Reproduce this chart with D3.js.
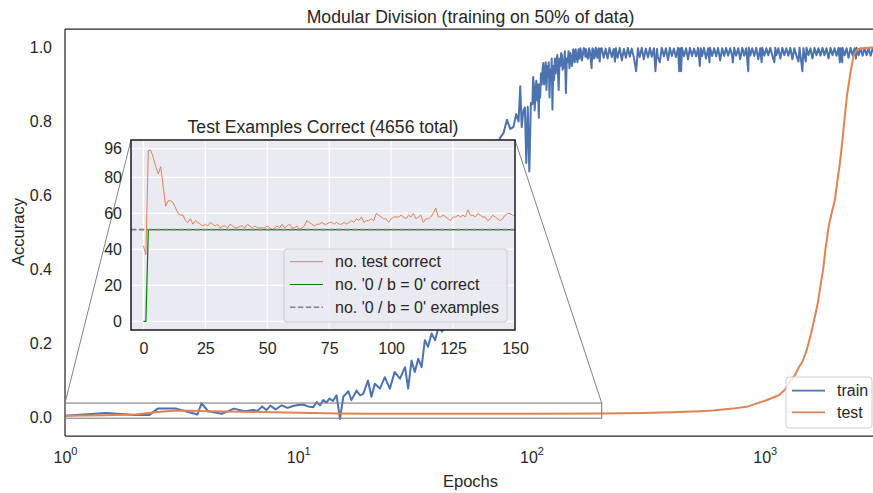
<!DOCTYPE html>
<html><head><meta charset="utf-8">
<script src="https://cdn.jsdelivr.net/npm/d3@7"></script>
<style>
body{margin:0;background:#fff}
svg text{font-family:"Liberation Sans",Arial,Helvetica,sans-serif;fill:#262626}
</style>
</head><body>
<svg id="c" width="873" height="493"></svg>
<script>
// ---------- data ----------
const mainTitle = "Modular Division (training on 50% of data)";
const insetTitle = "Test Examples Correct (4656 total)";
const xLabel = "Epochs";
const yLabel = "Accuracy";
const mainXTicks = [1, 10, 100, 1000];
const mainYTicks = [0.0, 0.2, 0.4, 0.6, 0.8, 1.0];
const insetXTicks = [0, 25, 50, 75, 100, 125, 150];
const insetYTicks = [0, 20, 40, 60, 80, 96];
const seriesNames = ["train", "test"];
const insetNames = ["no. test correct", "no. '0 / b = 0' correct", "no. '0 / b = 0' examples"];

// train accuracy: [epoch, accuracy]
const trainAcc = [
[1,0.005],[1.5,0.012],[2,0.007],[2.3,0.007],[2.5,0.024],[3.0,0.024],[3.4,0.014],[3.7,0.008],[3.85,0.039],[4.1,0.017],
[4.7,0.010],[5.3,0.024],[5.9,0.017],[6.4,0.020],[6.7,0.018],[7.0,0.030],[7.3,0.020],[7.6,0.032],[8.0,0.022],[8.5,0.033],
[9,0.026],[9.5,0.031],[10,0.034],[10.5,0.035],[11,0.030],[11.6,0.028],[12,0.042],[12.4,0.033],[12.8,0.047],[13.2,0.040],
[13.6,0.051],[14.1,0.045],[14.6,0.060],[15.1,-0.004],[15.6,0.056],[16.4,0.071],[16.9,0.047],[17.8,0.073],[18.4,0.060],[19,0.064],
[19.9,0.100],[20.6,0.056],[21.3,0.091],[22.4,0.078],[23.5,0.109],[24.7,0.078],[25.9,0.123],[27.3,0.105],[28.7,0.136],[29.6,0.078],
[30.6,0.154],[31.6,0.123],[32.7,0.159],[33.8,0.136],[34.9,0.209],[36,0.191],[37.3,0.227],[38.6,0.209],[40,0.245],[41.4,0.232],
[43,0.27],[45,0.30],[48,0.35],[52,0.42],[56,0.50],[60,0.57],[65,0.64],[70,0.70],[73.2,0.755],[76,0.77],
[78.5,0.805],[81,0.78],[83.7,0.785],[86,0.82],[88,0.80],[89.5,0.895],[90.8,0.785],[92.3,0.83],[93.7,0.838],[95,0.688],
[96.4,0.84],[97.9,0.665],[99.4,0.85],
[100.9,0.847],[101.7,0.92],[102.5,0.89],[103.2,0.83],[104,0.88],[104.9,0.91],[105.8,0.856],[106.6,0.9],[107.5,0.81],[108.2,0.9],
[109,0.865],[109.8,0.93],[110.7,0.9],[111.5,0.94],[112.4,0.958],[113.3,0.9],[114.3,0.93],[115.1,0.96],[116,0.885],[116.9,0.95],
[117.8,0.92],[118.6,0.96],[119.5,0.865],[120.4,0.94],[121.3,0.91],[122.1,0.97],[123,0.832],[124,0.95],[125,0.912],[126,0.97],
[127,0.93],[128,0.96],[129,0.98],[129.9,0.93],[130.8,0.885],[132,0.97],[133,0.95],[134,0.985],[135,0.98],[136,0.94],
[137.5,0.95],[139,0.99],[140.5,0.877],[141.7,0.97],[143,0.96],[144.2,0.99],[145.5,0.944],[146.7,0.985],[148,0.975],[149,0.95],
[150,0.962],[151,0.995],[152,0.99],[153.3,0.96],[154.7,0.995],[156,0.975],[157.5,0.96],[159,0.995],[160.6,0.97],[162,0.998],
[163,0.99],[164.5,0.965],[166,0.98],[167.5,0.998],[169,0.997],[170.3,0.975],[171.5,0.995],[173,0.975],[175,0.97],[176.5,0.998],
[178,0.99],[179.5,0.97],[181,0.944],[182.5,0.998],[184,0.995],[185.5,0.97],[187,0.975],[188.5,0.999],[190,0.997],[191.5,0.972],
[193,0.975],[194.5,0.998],[196,0.962],[198,0.997],
[200,.998],[204,.972],[208,.997],[212,.97],[216,.999],[221,.974],[225,.996],[228,.962],[230,.998],[234,.972],
[239,.999],[244,.965],[249,.996],[254,.972],[259,.999],[264,.975],[269,.997],[275,.972],[281,.936],[286,.998],
[291,.974],[297,.999],[303,.968],[309,.997],[316,.973],[322,.999],[328,.975],[335,.998],[340,.936],[345,.996],
[348,.975],[355,.96],[362,.999],[370,.976],[377,.998],[385,.966],[392,.999],[400,.977],[408,.997],[416,.974],
[425,.999],[430,.936],[434,.998],[438,.936],[442,.999],[451,.976],[460,.998],[469,.968],[478,.999],[488,.977],
[498,.997],[508,.976],[518,.999],[527,.95],[532,.998],[539,.977],[549,.999],[560,.97],[572,.998],[580,.96],
[583,.999],[595,.977],[607,.998],[619,.976],[631,.999],[644,.965],[657,.998],[670,.977],[683,.999],[697,.978],
[711,.998],[725,.977],[730,.96],[740,.999],[754,.978],[770,.998],[785,.968],[801,.999],[817,.978],[833,.998],
[850,.936],[855,.999],[867,.978],[884,.998],[902,.977],[920,.999],[938,.968],[957,.998],[970,.96],[976,.999],
[996,.978],[1016,.998],[1036,.979],[1057,.999],[1078,.978],[1100,.96],[1110,.999],[1122,.979],[1144,.998],[1167,.97],
[1190,.999],[1214,.979],[1238,.998],[1263,.978],[1288,.999],[1314,.968],[1340,.998],[1367,.978],[1395,.962],[1410,.999],
[1423,.979],[1451,.936],[1465,.998],[1480,.979],[1500,.962],[1510,.999],[1540,.979],[1571,.998],[1602,.97],[1634,.999],
[1667,.979],[1700,.998],[1734,.978],[1769,.999],[1804,.979],[1840,.998],[1877,.97],[1915,.999],[1953,.979],[1992,.998],
[2032,.978],[2073,.999],[2100,.96],[2114,.998],[2150,.96],[2156,.999],[2200,.979],[2244,.998],[2288,.972],[2334,.999],
[2381,.979],[2429,.998],[2460,.97],[2477,.999],[2527,.979],[2577,.998],[2629,.978],[2681,.999],[2735,.979],[2790,.998],
[2846,.978],[2903,.999],[2961,.979],[3000,.998]
];

// test accuracy: [epoch, accuracy]
const testAcc = [
[1,0.005],[1.5,0.006],[2,0.008],[2.5,0.015],[3,0.019],[3.5,0.018],[4,0.017],[5,0.016],[7,0.015],[10,0.013],
[15,0.011],[20,0.010],[30,0.010],[50,0.010],[100,0.010],[200,0.011],[300,0.012],[400,0.014],[527,0.017],[600,0.019],
[730,0.024],[850,0.030],[1010,0.046],[1150,0.060],[1220,0.075],[1290,0.100],[1350,0.115],[1400,0.136],[1450,0.150],[1510,0.180],
[1580,0.227],[1640,0.272],[1690,0.310],[1740,0.362],[1780,0.400],[1820,0.453],[1880,0.516],[1950,0.561],[2000,0.588],[2050,0.640],
[2100,0.687],[2150,0.745],[2190,0.796],[2250,0.868],[2330,0.931],[2400,0.976],[2450,0.988],[2500,0.995],[2630,0.998],[2870,1.0],[3000,1.0]
];

// inset: number of test examples correct, epochs 0..150
const testCorrect = [
42,37,95,95,91,86,82,86,75,64, 67,67,66,63,60,59,59,56,55,57,
54,56,55,54,53,54,53,55,54,53, 54,52,53,53,52,54,53,52,52,53,
53,52,54,53,52,53,52,52,52,52, 53,52,51,52,53,52,54,52,53,54,
52,52,53,51,52,53,56,55,54,53, 54,54,55,54,54,55,55,54,55,54,
54,55,54,55,56,55,57,56,58,55, 56,56,57,56,60,59,58,57,57,55,
57,58,58,58,59,58,57,59,58,60, 57,58,59,55,57,57,58,60,63,58,
58,59,58,57,56,58,58,59,58,59, 58,62,59,59,58,60,59,58,58,56,
57,59,58,57,56,57,59,60,60,59, 59
];
// inset: number of '0 / b = 0' examples correct: [epoch, count]
const zeroCorrect = [[0,0],[1,0],[2,51],[150,51]];
const zeroExamples = 51;

// ---------- drawing ----------
const svg = d3.select("#c");
const blue = "#4C72B0", orange = "#DD8452";
const L = 65, R = 876, T = 29, B = 436;
const x = d3.scaleLog().domain([1, 3000]).range([L, R]);
const y = d3.scaleLinear().domain([-0.05, 1.05]).range([B, T]);

svg.append("defs").append("clipPath").attr("id","mainclip")
  .append("rect").attr("x",L).attr("y",T).attr("width",R-L).attr("height",B-T);

const line = d3.line().x(d => x(d[0])).y(d => y(d[1]));
const plot = svg.append("g").attr("clip-path","url(#mainclip)");
plot.append("path").datum(trainAcc).attr("d", line).attr("fill","none")
  .attr("stroke", blue).attr("stroke-width",2).attr("stroke-linejoin","round");
plot.append("path").datum(testAcc).attr("d", line).attr("fill","none")
  .attr("stroke", orange).attr("stroke-width",2).attr("stroke-linejoin","round");

// spines
const spine = (x1,y1,x2,y2) => svg.append("line").attr("x1",x1).attr("x2",x2).attr("y1",y1).attr("y2",y2)
  .attr("stroke","#262626").attr("stroke-width",1.25);
spine(L,T,L,B); spine(L,B,R,B); spine(L,T,R,T); spine(R,T,R,B);

// y axis
const yAx = svg.append("g").attr("transform",`translate(${L},0)`)
  .call(d3.axisLeft(y).tickValues(mainYTicks).tickSize(0).tickPadding(13).tickFormat(d3.format(".1f")));
yAx.select(".domain").remove();
yAx.selectAll("text").attr("font-size","16px").attr("fill","#262626");

// x axis with 10^n labels
const xAx = svg.append("g").attr("transform",`translate(0,${B})`)
  .call(d3.axisBottom(x).tickValues(mainXTicks).tickSize(0).tickPadding(10).tickFormat(() => ""));
xAx.select(".domain").remove();
xAx.selectAll(".tick text").each(function(d){
  const t = d3.select(this).attr("font-size","16px").attr("fill","#262626").attr("dy","1.05em");
  t.append("tspan").text("10");
  t.append("tspan").text(String(Math.round(Math.log10(d)))).attr("font-size","11px").attr("dy","-0.75em");
});

svg.append("text").attr("x",(L+R)/2).attr("y",23).attr("text-anchor","middle").attr("font-size","17.6px").text(mainTitle);
svg.append("text").attr("x",(L+R)/2).attr("y",487).attr("text-anchor","middle").attr("font-size","16.5px").text(xLabel);
svg.append("text").attr("transform","translate(24,232) rotate(-90)").attr("text-anchor","middle").attr("font-size","16.5px").text(yLabel);

// indicate-inset rectangle + connectors
const rx0 = x(1), rx1 = x(200), ry0 = y(0.039), ry1 = y(-0.002);
svg.append("rect").attr("x",rx0).attr("y",ry0).attr("width",rx1-rx0).attr("height",ry1-ry0)
  .attr("fill","none").attr("stroke","#808080").attr("stroke-width",1.1);

// inset axes
const IL = 131, IR = 515, IT = 140, IB = 330;
const xi = d3.scaleLinear().domain([-5, 150]).range([IL, IR]);
const yi = d3.scaleLinear().domain([-4.8, 100.8]).range([IB, IT]);
svg.append("line").attr("x1",rx0).attr("y1",ry0).attr("x2",IL).attr("y2",IT).attr("stroke","#808080").attr("stroke-width",1);
svg.append("line").attr("x1",rx1).attr("y1",ry0).attr("x2",IR).attr("y2",IT).attr("stroke","#808080").attr("stroke-width",1);

const ins = svg.append("g");
ins.append("rect").attr("x",IL).attr("y",IT).attr("width",IR-IL).attr("height",IB-IT).attr("fill","#EAEAF2");
ins.append("defs").append("clipPath").attr("id","insclip")
  .append("rect").attr("x",IL).attr("y",IT).attr("width",IR-IL).attr("height",IB-IT);
const ig = ins.append("g").attr("clip-path","url(#insclip)");
ig.selectAll(".gx").data(insetXTicks).join("line").attr("x1",d=>xi(d)).attr("x2",d=>xi(d))
  .attr("y1",IT).attr("y2",IB).attr("stroke","#fff").attr("stroke-width",1.2);
ig.selectAll(".gy").data(insetYTicks).join("line").attr("y1",d=>yi(d)).attr("y2",d=>yi(d))
  .attr("x1",IL).attr("x2",IR).attr("stroke","#fff").attr("stroke-width",1.2);

const iline = d3.line().x(d => xi(d[0])).y(d => yi(d[1]));
ig.append("path").datum(testCorrect.map((v,i)=>[i,v])).attr("d", iline).attr("fill","none")
  .attr("stroke", orange).attr("stroke-width",1);
ig.append("path").datum(zeroCorrect).attr("d", iline).attr("fill","none")
  .attr("stroke", "green").attr("stroke-width",1.2);
ig.append("line").attr("x1",IL).attr("x2",IR).attr("y1",yi(zeroExamples)).attr("y2",yi(zeroExamples))
  .attr("stroke","#808080").attr("stroke-width",1.6).attr("stroke-dasharray","5.5,2.4");

ins.append("rect").attr("x",IL).attr("y",IT).attr("width",IR-IL).attr("height",IB-IT)
  .attr("fill","none").attr("stroke","#262626").attr("stroke-width",1.6);

const ixAx = ins.append("g").attr("transform",`translate(0,${IB})`)
  .call(d3.axisBottom(xi).tickValues(insetXTicks).tickSize(0).tickPadding(13));
ixAx.select(".domain").remove();
ixAx.selectAll("text").attr("font-size","16px").attr("fill","#262626");
const iyAx = ins.append("g").attr("transform",`translate(${IL},0)`)
  .call(d3.axisLeft(yi).tickValues(insetYTicks).tickSize(0).tickPadding(9));
iyAx.select(".domain").remove();
iyAx.selectAll("text").attr("font-size","16px").attr("fill","#262626");
ins.append("text").attr("x",(IL+IR)/2).attr("y",133).attr("text-anchor","middle").attr("font-size","17.6px").text(insetTitle);

// inset legend
const il = ins.append("g");
il.append("rect").attr("x",284).attr("y",249).attr("width",223).attr("height",73).attr("rx",3)
  .attr("fill","#EAEAF2").attr("fill-opacity",0.8).attr("stroke","#cccccc").attr("stroke-width",1);
const ilStyles = [
  {c: orange, w: 1, dash: null},
  {c: "green", w: 1.2, dash: null},
  {c: "#808080", w: 1.6, dash: "5.5,2.4"}
];
insetNames.forEach((n,i) => {
  const yy = 261.7 + i*22.8;
  const l = il.append("line").attr("x1",290).attr("x2",323).attr("y1",yy).attr("y2",yy)
    .attr("stroke",ilStyles[i].c).attr("stroke-width",ilStyles[i].w);
  if (ilStyles[i].dash) l.attr("stroke-dasharray", ilStyles[i].dash);
  il.append("text").attr("x",335).attr("y",yy+5.5).attr("font-size","16px").text(n);
});

// main legend
const lg = svg.append("g");
lg.append("rect").attr("x",786).attr("y",377).attr("width",86).attr("height",51).attr("rx",3)
  .attr("fill","#fff").attr("fill-opacity",0.8).attr("stroke","#cccccc").attr("stroke-width",1);
[blue, orange].forEach((c,i) => {
  const yy = 390.7 + i*21.6;
  lg.append("line").attr("x1",792).attr("x2",825).attr("y1",yy).attr("y2",yy).attr("stroke",c).attr("stroke-width",1.8);
  lg.append("text").attr("x",837).attr("y",yy+5.5).attr("font-size","16px").text(seriesNames[i]);
});
</script>
</body></html>
